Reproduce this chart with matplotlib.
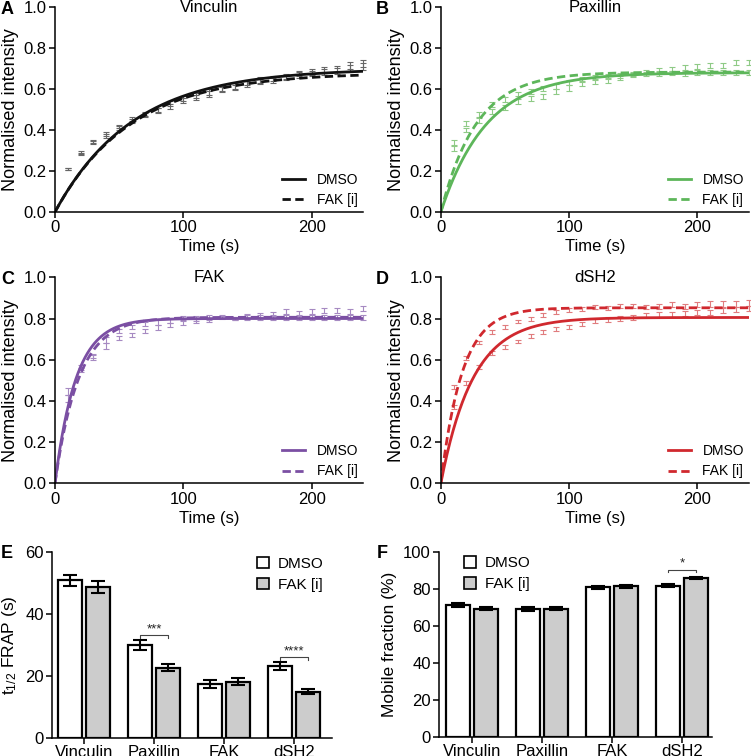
import numpy as np
import matplotlib.pyplot as plt
from matplotlib.patches import Patch

plt.rcParams['font.family'] = ['Liberation Sans', 'DejaVu Sans']
plt.rcParams['mathtext.fontset'] = 'custom'
plt.rcParams['mathtext.rm'] = 'Liberation Sans'
plt.rcParams['mathtext.it'] = 'Liberation Sans'

# FRAP time points (s)
times = [10, 20, 30, 40, 50, 60, 70, 80, 90, 100, 110, 120,
         130, 140, 150, 160, 170, 180, 190, 200, 210, 220, 230, 240]

# normalised intensity, mean per time point
vin_dmso = [0.21, 0.283, 0.338, 0.379, 0.416, 0.445, 0.473, 0.498, 0.517, 0.546, 0.56, 0.576,
            0.598, 0.608, 0.624, 0.636, 0.644, 0.657, 0.676, 0.684, 0.693, 0.698, 0.714, 0.725]
vin_fak = [0.212, 0.29, 0.342, 0.372, 0.41, 0.452, 0.48, 0.495, 0.528, 0.552, 0.568, 0.586,
           0.602, 0.615, 0.632, 0.645, 0.652, 0.66, 0.668, 0.676, 0.684, 0.69, 0.70, 0.71]
pax_dmso = [0.31, 0.40, 0.445, 0.49, 0.51, 0.54, 0.555, 0.565, 0.59, 0.605, 0.625, 0.636,
            0.644, 0.654, 0.668, 0.684, 0.693, 0.698, 0.706, 0.709, 0.717, 0.717, 0.73, 0.73]
pax_fak = [0.34, 0.43, 0.475, 0.525, 0.55, 0.575, 0.587, 0.603, 0.614, 0.631, 0.645, 0.655,
           0.66, 0.665, 0.672, 0.675, 0.677, 0.678, 0.678, 0.679, 0.68, 0.68, 0.68, 0.68]
fak_dmso = [0.445, 0.561, 0.618, 0.667, 0.704, 0.72, 0.739, 0.757, 0.769, 0.78, 0.79, 0.793,
            0.805, 0.80, 0.81, 0.815, 0.82, 0.833, 0.825, 0.835, 0.84, 0.84, 0.835, 0.85]
fak_fak = [0.413, 0.55, 0.61, 0.696, 0.74, 0.76, 0.775, 0.78, 0.79, 0.80, 0.80, 0.805,
           0.81, 0.80, 0.805, 0.805, 0.805, 0.805, 0.805, 0.805, 0.806, 0.806, 0.806, 0.806]
sh2_dmso = [0.37, 0.485, 0.566, 0.631, 0.66, 0.688, 0.715, 0.736, 0.748, 0.76, 0.775, 0.79,
            0.795, 0.80, 0.805, 0.815, 0.82, 0.82, 0.825, 0.83, 0.83, 0.84, 0.845, 0.85]
sh2_fak = [0.466, 0.607, 0.683, 0.733, 0.76, 0.785, 0.798, 0.817, 0.83, 0.84, 0.845, 0.855,
           0.85, 0.86, 0.86, 0.855, 0.86, 0.87, 0.86, 0.87, 0.87, 0.87, 0.87, 0.875]

# SEM of each time point
vin_err = [0.005, 0.006, 0.007, 0.009, 0.008, 0.010, 0.010, 0.011, 0.012, 0.012, 0.012, 0.013,
           0.012, 0.013, 0.013, 0.013, 0.012, 0.012, 0.013, 0.013, 0.014, 0.015, 0.016, 0.017]
pax_err = [0.012, 0.012, 0.012, 0.012, 0.012, 0.011, 0.012, 0.012, 0.012, 0.013, 0.012, 0.012,
           0.012, 0.012, 0.010, 0.010, 0.011, 0.011, 0.012, 0.012, 0.012, 0.012, 0.012, 0.011]
fak_err = [0.018, 0.012, 0.012, 0.014, 0.010, 0.010, 0.010, 0.011, 0.010, 0.011, 0.010, 0.010,
           0.008, 0.008, 0.010, 0.010, 0.010, 0.012, 0.012, 0.011, 0.013, 0.013, 0.012, 0.012]
sh2_err = [0.010, 0.010, 0.009, 0.010, 0.010, 0.009, 0.010, 0.010, 0.010, 0.010, 0.010, 0.010,
           0.010, 0.010, 0.010, 0.010, 0.012, 0.012, 0.012, 0.012, 0.013, 0.013, 0.013, 0.013]

# one-phase association fits: plateau and rate constant (1/s)
fit_plateau_dmso = [0.70, 0.68, 0.80, 0.805]
fit_rate_dmso = [0.0165, 0.028, 0.0615, 0.040]
fit_plateau_fak = [0.68, 0.683, 0.806, 0.852]
fit_rate_fak = [0.0169, 0.036, 0.054, 0.060]

proteins = ['Vinculin', 'Paxillin', 'FAK', 'dSH2']

# bar charts
thalf_dmso = [50.9, 30.0, 17.3, 23.2]
thalf_dmso_err = [1.7, 1.5, 1.25, 1.2]
thalf_fak = [48.7, 22.7, 18.1, 14.9]
thalf_fak_err = [1.9, 1.1, 1.1, 0.7]
mobile_dmso = [71.2, 69.2, 80.7, 81.7]
mobile_dmso_err = [1.1, 1.0, 0.7, 0.6]
mobile_fak = [69.2, 69.3, 81.3, 85.9]
mobile_fak_err = [0.9, 0.9, 0.9, 0.6]

line_colors = ['#111111', '#5db65a', '#7b4fa3', '#d0282e']
err_colors = ['#666666', '#8fca86', '#a68ac2', '#e07c7e']

means_dmso = [vin_dmso, pax_dmso, fak_dmso, sh2_dmso]
means_fak = [vin_fak, pax_fak, fak_fak, sh2_fak]
errs = [vin_err, pax_err, fak_err, sh2_err]

W, H = 751, 756
fig = plt.figure(figsize=(W / 100, H / 100), dpi=100)

positions = [[0.0732, 0.7196, 0.410, 0.271],
             [0.587, 0.7196, 0.410, 0.271],
             [0.0732, 0.3607, 0.410, 0.2725],
             [0.587, 0.3607, 0.410, 0.2725]]
# panel letter positions in pixels (x from left, y from top)
letter_px = [(1, 9), (376, 9), (1, 279), (376, 279), (1, 553), (377, 553)]

t_fit = np.linspace(0, 240, 400)
for i in range(4):
    ax = fig.add_axes(positions[i])
    ax.errorbar(times, means_dmso[i], yerr=errs[i], fmt='none', ecolor=err_colors[i],
                elinewidth=0.8, capsize=2, capthick=0.8, clip_on=False)
    ax.errorbar(times, means_fak[i], yerr=errs[i], fmt='none', ecolor=err_colors[i],
                elinewidth=0.8, capsize=2, capthick=0.8, clip_on=False)
    y1 = fit_plateau_dmso[i] * (1 - np.exp(-fit_rate_dmso[i] * t_fit))
    y2 = fit_plateau_fak[i] * (1 - np.exp(-fit_rate_fak[i] * t_fit))
    ax.plot(t_fit, y1, '-', color=line_colors[i], lw=2.0, label='DMSO')
    ax.plot(t_fit, y2, '--', color=line_colors[i], lw=2.0, dashes=(3, 1.6), label='FAK [i]')
    ax.set_xlim(0, 240)
    ax.set_ylim(0, 1.0)
    ax.set_xticks([0, 100, 200])
    ax.set_yticks([0, 0.2, 0.4, 0.6, 0.8, 1.0])
    ax.set_yticklabels(['0.0', '0.2', '0.4', '0.6', '0.8', '1.0'])
    ax.spines['top'].set_visible(False)
    ax.spines['right'].set_visible(False)
    for s in ['left', 'bottom']:
        ax.spines[s].set_linewidth(1.1)
    ax.tick_params(labelsize=12, width=1.1, length=4, pad=2)
    ax.set_xlabel('Time (s)', fontsize=12, labelpad=3)
    ax.set_ylabel('Normalised intensity', fontsize=13, labelpad=3)
    ax.text(0.5, 1.0, proteins[i], transform=ax.transAxes, fontsize=12,
            ha='center', va='center')
    ax.legend(loc='lower right', frameon=False, fontsize=10, handlelength=1.7,
              borderaxespad=0.05, labelspacing=0.45, borderpad=0.3)

bar_grey = '#cccccc'
x = np.arange(4)


def bar_panel(rect, dmso, dmso_err, fak, fak_err, ymax, ystep, ylabel, xlim):
    ax = fig.add_axes(rect)
    ax.bar(x - 0.2, dmso, width=0.345, color='white', edgecolor='black', linewidth=1.6,
           yerr=dmso_err, capsize=5, error_kw=dict(elinewidth=1.5, capthick=1.5), label='DMSO')
    ax.bar(x + 0.2, fak, width=0.345, color=bar_grey, edgecolor='black', linewidth=1.6,
           yerr=fak_err, capsize=5, error_kw=dict(elinewidth=1.5, capthick=1.5), label='FAK [i]')
    ax.set_xlim(*xlim)
    ax.set_ylim(0, ymax)
    ax.set_yticks(np.arange(0, ymax + 1, ystep))
    ax.set_xticks(x)
    ax.set_xticklabels(proteins)
    ax.spines['top'].set_visible(False)
    ax.spines['right'].set_visible(False)
    for s in ['left', 'bottom']:
        ax.spines[s].set_linewidth(1.1)
    ax.tick_params(labelsize=12, width=1.1, length=4, pad=2)
    ax.tick_params(axis='x', pad=1)
    ax.set_ylabel(ylabel, fontsize=12.5, labelpad=4)
    return ax


axE = bar_panel([0.0692, 0.0242, 0.373, 0.2453], thalf_dmso, thalf_dmso_err, thalf_fak,
                thalf_fak_err, 60, 20, r't$_{1/2}$ FRAP (s)', (-0.46, 3.54))
handles = [Patch(facecolor='white', edgecolor='black', linewidth=1.2),
           Patch(facecolor=bar_grey, edgecolor='black', linewidth=1.2)]
axE.legend(handles, ['DMSO', 'FAK [i]'], loc='upper right', bbox_to_anchor=(1.02, 1.05),
           frameon=False, fontsize=11, handlelength=0.8, handleheight=0.8,
           handletextpad=0.6, labelspacing=0.45)


def sig_bar(ax, i, y, txt, drop):
    ax.plot([i - 0.2, i - 0.2, i + 0.2, i + 0.2], [y - drop, y, y, y - drop],
            color='#444444', lw=0.8)
    ax.text(i, y, txt, ha='center', va='bottom', fontsize=9.5, color='#222222')


sig_bar(axE, 1, 33.2, '***', 0.8)
sig_bar(axE, 3, 26.0, '****', 0.8)

axF = bar_panel([0.5846, 0.0255, 0.3635, 0.2447], mobile_dmso, mobile_dmso_err, mobile_fak,
                mobile_fak_err, 100, 20, 'Mobile fraction (%)', (-0.47, 3.43))
axF.legend(handles, ['DMSO', 'FAK [i]'], loc='upper left', bbox_to_anchor=(0.04, 1.05),
           frameon=False, fontsize=11, handlelength=0.8, handleheight=0.8,
           handletextpad=0.6, labelspacing=0.45)
sig_bar(axF, 3, 90.2, '*', 1.3)

for letter, (px, py) in zip(['A', 'B', 'C', 'D', 'E', 'F'], letter_px):
    fig.text(px / W, 1 - py / H, letter, fontsize=13, fontweight='bold',
             ha='left', va='center')

fig.savefig('out.png', dpi=100)
